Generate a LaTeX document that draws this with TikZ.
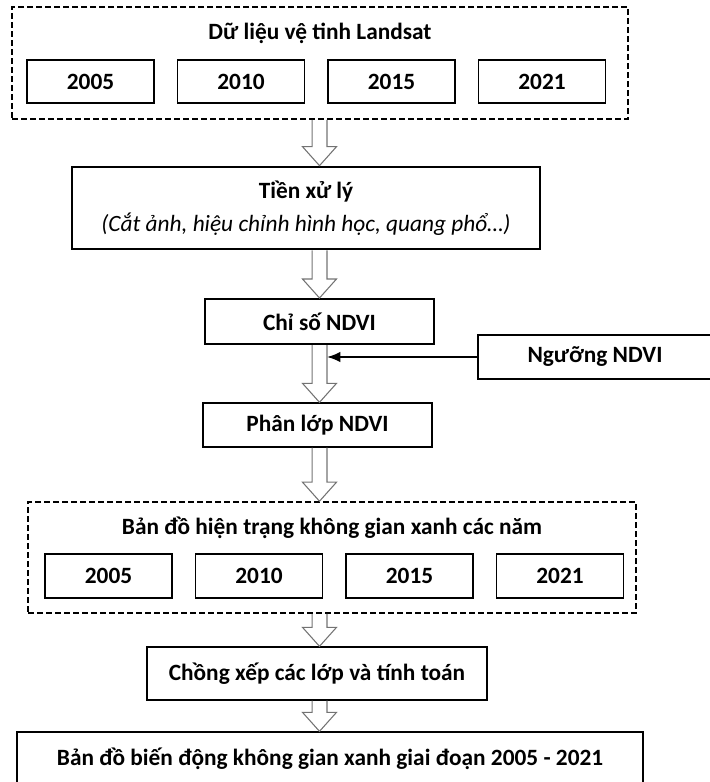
\documentclass[tikz,border=0pt]{standalone}
\usepackage{fontspec}
\setmainfont{Carlito}
\usetikzlibrary{positioning, calc, arrows.meta}

% hollow block arrow between two points (straight down)
\newcommand{\hollowarrow}[2]{%
    \draw[hollow] let \p1=(#1), \p2=(#2) in
        (\x1-5.6pt,\y1) -- (\x1-5.6pt,\y2+14.25pt) -- (\x1-12.75pt,\y2+14.25pt) -- (\x2,\y2)
        -- (\x1+12.75pt,\y2+14.25pt) -- (\x1+5.6pt,\y2+14.25pt) -- (\x1+5.6pt,\y1);
}

\begin{document}
\begin{tikzpicture}[x=0.75pt, y=-0.75pt,
    every node/.style={font=\fontsize{17.5}{21}\selectfont\bfseries},
    wh/.style 2 args={minimum width=#1*0.75pt, minimum height=#2*0.75pt},
    box/.style={draw, line width=1pt, inner sep=0pt},
    group/.style={draw, line width=1.2pt, dash pattern=on 4.5pt off 2.25pt, inner sep=0pt},
    hollow/.style={draw=black!55, line width=0.8pt, line join=miter}]
    \useasboundingbox (0,0) rectangle (710,782);

    \node (sat) [group, wh={616}{112}] at (320,63) {};
    \node (satTitle) at (320,33) {Dữ liệu vệ tinh Landsat};
    \foreach \y [count=\i from 0] in {2005, 2010, 2015, 2021}
    {
        \node (sat\y) [box, wh={127}{43}] at (90.5+150.5*\i, 81.5) {\y};
    }

    \node (pre) [box, line width=2pt, wh={468}{82}, align=center] at (306,208)
        {Tiền xử lý\\[4pt]{\mdseries\itshape (Cắt ảnh, hiệu chỉnh hình học, quang phổ…)}};
    \node (ndvi) [box, line width=1.5pt, wh={229}{45}] at (319.5,321.5) {Chỉ số NDVI};
    \node (thr) [box, wh={234}{44}] at (595,357) {Ngưỡng NDVI};
    \node (cls) [box, wh={229}{44}] at (317.5,425) {Phân lớp NDVI};

    \node (map) [group, wh={608}{111}] at (332,557.5) {};
    \node (mapTitle) at (332,528) {Bản đồ hiện trạng không gian xanh các năm};
    \foreach \y [count=\i from 0] in {2005, 2010, 2015, 2021}
    {
        \node (map\y) [box, wh={127}{44}] at (108.5+150.5*\i, 576) {\y};
    }

    \node (ovl) [box, wh={340}{53}] at (317,673.5) {Chồng xếp các lớp và tính toán};
    \node (chg) [box, wh={626}{54}] at (330,759) {Bản đồ biến động không gian xanh giai đoạn 2005 - 2021};

    \coordinate (col) at (319.5,0);
    \coordinate (shaftR) at (327,0);

    \hollowarrow{sat.south -| col}{pre.north -| col}
    \hollowarrow{pre.south -| col}{ndvi.north -| col}
    \hollowarrow{ndvi.south -| col}{cls.north -| col}
    \hollowarrow{cls.south -| col}{map.north -| col}
    \hollowarrow{map.south -| col}{ovl.north -| col}
    \hollowarrow{ovl.south -| col}{chg.north -| col}

    \draw[line width=1.6pt, -{Latex[length=10pt, width=8pt]}] (thr.west) -- (thr.west -| shaftR);
\end{tikzpicture}
\end{document}
